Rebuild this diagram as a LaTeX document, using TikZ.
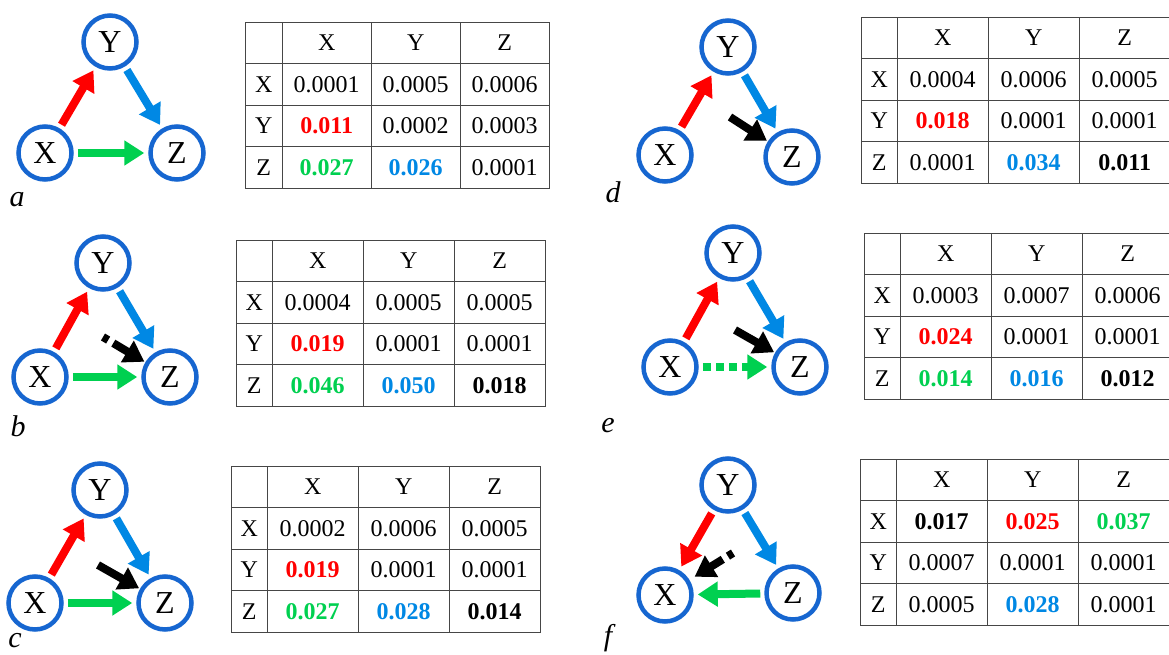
\documentclass[tikz,border=0pt]{standalone}
\usepackage{fontspec}
\setmainfont{Liberation Serif}
\usetikzlibrary{arrows.meta,matrix}
\definecolor{ring}{RGB}{22,102,208}
\definecolor{cred}{RGB}{255,0,0}
\definecolor{cgrn}{RGB}{0,208,80}
\definecolor{cblu}{RGB}{0,136,228}
\definecolor{gridc}{RGB}{70,70,70}
\newcommand{\tabfont}{\fontsize{24}{26}\selectfont}
\tikzset{
  var/.style={circle,draw=ring,line width=4.5pt,fill=white,minimum size=53pt,inner sep=0pt,font=\fontsize{32}{32}\selectfont},
  arr/.style={line width=8pt,-{Triangle[length=20pt,width=24pt]},shorten <=4pt,shorten >=4pt},
  karr/.style={arr,black,shorten <=0pt,shorten >=1pt},
  brokenk/.style={dash pattern=on 6pt off 6pt on 80pt},
  dotted8/.style={dash pattern=on 8pt off 5pt},
  tab/.style={matrix of nodes,nodes in empty cells,anchor=north west,inner sep=0pt,line width=1.2pt,
    column sep=-1.2pt,row sep=-1.2pt,font=\tabfont,
    nodes={draw=gridc,line width=1.2pt,anchor=center,minimum width=91pt,minimum height=41.5pt,inner sep=0pt,
      font=\tabfont},
    column 1/.style={nodes={minimum width=36pt}}},
  plab/.style={anchor=base,font=\fontsize{30}{30}\selectfont\itshape},
}
\newcommand{\vred}[1]{\textbf{\color{cred}#1}}
\newcommand{\vgrn}[1]{\textbf{\color{cgrn}#1}}
\newcommand{\vblu}[1]{\textbf{\color{cblu}#1}}
\newcommand{\vblk}[1]{\textbf{#1}}

\begin{document}
\begin{tikzpicture}[x=1pt,y=-1pt]
\fill[white] (0,0) rectangle (1169,655);
\useasboundingbox (0,0) rectangle (1169,655);

% panel a
\node[var] (aY) at (110,42) {Y};
\node[var] (aX) at (45,153) {X};
\node[var] (aZ) at (177,153) {Z};
\draw[arr,cred] (aX) -- (aY);
\draw[arr,cblu] (aY) -- (aZ);
\draw[arr,cgrn] (aX) -- (aZ);
\node[plab] (alab) at (17,207) {a};
\matrix (atab) [tab,nodes={minimum width=89pt},column 1/.style={nodes={minimum width=37pt}}] at (244,21) {
   & X & Y & Z \\
 X & 0.0001 & 0.0005 & 0.0006 \\
 Y & \vred{0.011} & 0.0002 & 0.0003 \\
 Z & \vgrn{0.027} & \vblu{0.026} & 0.0001 \\
};

% panel b
\node[var] (bY) at (103,263) {Y};
\node[var] (bX) at (40,377) {X};
\node[var] (bZ) at (170,377) {Z};
\coordinate (bk) at (103,337);
\draw[arr,cred] (bX) -- (bY);
\draw[arr,cblu] (bY) -- (bZ);
\draw[arr,cgrn] (bX) -- (bZ);
\draw[karr,brokenk] (bk) -- (bZ);
\node[plab] (blab) at (18,436) {b};
\matrix (btab) [tab] at (235,239) {
   & X & Y & Z \\
 X & 0.0004 & 0.0005 & 0.0005 \\
 Y & \vred{0.019} & 0.0001 & 0.0001 \\
 Z & \vgrn{0.046} & \vblu{0.050} & \vblk{0.018} \\
};

% panel c
\node[var] (cY) at (100,490) {Y};
\node[var] (cX) at (35,603) {X};
\node[var] (cZ) at (165,603) {Z};
\coordinate (ck) at (98,565);
\draw[arr,cred] (cX) -- (cY);
\draw[arr,cblu] (cY) -- (cZ);
\draw[arr,cgrn] (cX) -- (cZ);
\draw[karr] (ck) -- (cZ);
\node[plab] (clab) at (15,647) {c};
\matrix (ctab) [tab] at (230,465) {
   & X & Y & Z \\
 X & 0.0002 & 0.0006 & 0.0005 \\
 Y & \vred{0.019} & 0.0001 & 0.0001 \\
 Z & \vgrn{0.027} & \vblu{0.028} & \vblk{0.014} \\
};

% panel d
\node[var] (dY) at (728,47) {Y};
\node[var] (dX) at (665,155) {X};
\node[var] (dZ) at (792,157) {Z};
\coordinate (dk) at (730,117);
\draw[arr,cred] (dX) -- (dY);
\draw[arr,cblu] (dY) -- (dZ);
\draw[karr] (dk) -- (dZ);
\node[plab] (dlab) at (613,202) {d};
\matrix (dtab) [tab] at (860,16) {
   & X & Y & Z \\
 X & 0.0004 & 0.0006 & 0.0005 \\
 Y & \vred{0.018} & 0.0001 & 0.0001 \\
 Z & 0.0001 & \vblu{0.034} & \vblk{0.011} \\
};

% panel e
\node[var] (eY) at (733,253) {Y};
\node[var] (eX) at (670,367) {X};
\node[var] (eZ) at (800,367) {Z};
\coordinate (ek) at (735,330);
\draw[arr,cred] (eX) -- (eY);
\draw[arr,cblu] (eY) -- (eZ);
\draw[arr,cgrn,dotted8] (eX) -- (eZ);
\draw[karr] (ek) -- (eZ);
\node[plab] (elab) at (608,432) {e};
\matrix (etab) [tab] at (863,232) {
   & X & Y & Z \\
 X & 0.0003 & 0.0007 & 0.0006 \\
 Y & \vred{0.024} & 0.0001 & 0.0001 \\
 Z & \vgrn{0.014} & \vblu{0.016} & \vblk{0.012} \\
};

% panel f
\node[var] (fY) at (728,485) {Y};
\node[var] (fX) at (665,595) {X};
\node[var] (fZ) at (793,593) {Z};
\coordinate (fk) at (733,553);
\draw[arr,cred] (fY) -- (fX);
\draw[arr,cblu] (fY) -- (fZ);
\draw[arr,cgrn] (fZ) -- (fX);
\draw[karr,brokenk,shorten >=6pt] (fk) -- (fX);
\node[plab] (flab) at (608,645) {f};
\matrix (ftab) [tab] at (859,458) {
   & X & Y & Z \\
 X & \vblk{0.017} & \vred{0.025} & \vgrn{0.037} \\
 Y & 0.0007 & 0.0001 & 0.0001 \\
 Z & 0.0005 & \vblu{0.028} & 0.0001 \\
};
\end{tikzpicture}
\end{document}
